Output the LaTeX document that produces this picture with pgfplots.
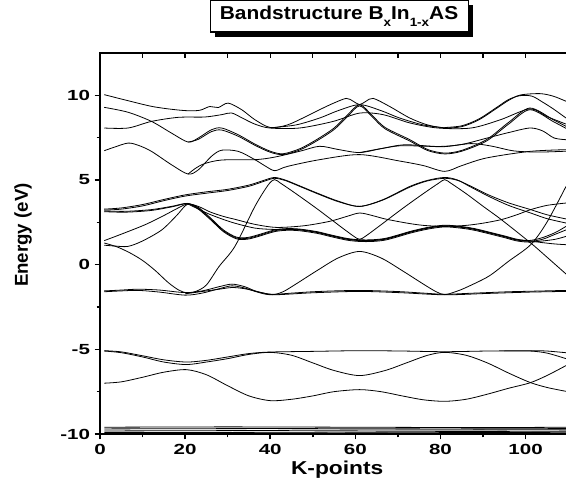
\documentclass[border=0pt]{standalone}
\usepackage{fontspec}
\setmainfont{Liberation Sans}
\newfontfamily\tickfont{Liberation Sans}[FakeStretch=1.4]
\newfontfamily\labfont{Liberation Sans}[FakeStretch=1.22]
\newfontfamily\titfont{Liberation Sans}[FakeStretch=1.12]
\usepackage{pgfplots}
\pgfplotsset{compat=1.18}
\usetikzlibrary{shadows}
\begin{document}
\begin{tikzpicture}
\pgfplotsset{band/.style={black, line width=0.6pt, smooth, no marks}}
\begin{axis}[name=ax,
  width=349.5pt, height=285.75pt, scale only axis,
  xmin=0, xmax=109.5, ymin=-10, ymax=12.5,
  axis x line=box, axis y line=left,
  x axis line style={-, line width=1.6pt},
  y axis line style={-, line width=1.8pt},
  xtick={0,20,...,100}, minor xtick={10,30,...,90},
  ytick={-10,-5,0,5,10}, minor ytick={-7.5,-2.5,2.5,7.5},
  xtick pos=bottom,
  tick align=outside,
  major tick length=4pt, minor tick length=2.5pt,
  every tick/.style={black, line width=1.2pt},
  /pgf/number format/assume math mode=true,
  ticklabel style={font={\fontsize{11}{13}\tickfont\bfseries}},
  xlabel={K-points}, ylabel={Energy (eV)},
  xlabel style={font={\fontsize{14}{16}\labfont\bfseries}, at={(axis description cs:0.509,0)}, anchor=center, yshift=-27pt},
  ylabel style={font={\fontsize{14}{16}\bfseries}, at={(axis description cs:-0.1652,0.522)}, anchor=center},
  title={Bandstructure B\raisebox{-0.4em}{\fontsize{9}{9}\selectfont x}In\raisebox{-0.4em}{\fontsize{9}{9}\selectfont 1-x}AS},
  title style={font={\fontsize{14}{16}\titfont\bfseries}, at={(axis description cs:0.513,1)}, anchor=center, yshift=21.75pt,
    draw=black, line width=0.8pt, fill=white, minimum width=193.5pt, minimum height=24pt, inner sep=2pt,
    drop shadow={shadow xshift=3.5pt, shadow yshift=-3.5pt, fill=black, opacity=1}},
]
% --- lowest flat bands
\addplot[band] coordinates {(1,-9.6)(30,-9.58)(60,-9.6)(90,-9.62)(109.5,-9.6)};
\addplot[band] coordinates {(1,-9.7)(40,-9.68)(80,-9.7)(109.5,-9.68)};
\addplot[band] coordinates {(1,-9.82)(30,-9.8)(60,-9.77)(109.5,-9.75)};
\addplot[band] coordinates {(1,-9.92)(40,-9.9)(80,-9.86)(109.5,-9.83)};
\addplot[band] coordinates {(1,-9.97)(50,-9.94)(109.5,-9.9)};
% --- -5 .. -8 group
\addplot[band] coordinates {(1,-5.08)(5,-5.15)(10,-5.38)(15,-5.62)(20.3,-5.75)(25,-5.65)(30,-5.45)(35,-5.25)(40,-5.16)(50,-5.12)(61,-5.08)(71,-5.1)(81,-5.14)(91,-5.1)(101,-5.08)(105,-5.1)(109.5,-5.2)};
\addplot[band] coordinates {(95,-5.1)(101,-5.1)(105,-5.22)(109.5,-5.55)};
\addplot[band] coordinates {(1,-5.1)(5,-5.2)(10,-5.45)(15,-5.75)(20.3,-5.9)(25,-5.75)(30,-5.55)(35,-5.3)(40,-5.18)(45,-5.35)(50,-5.8)(55,-6.25)(61,-6.55)(67,-6.25)(72,-5.8)(77,-5.35)(81,-5.18)(86,-5.35)(91,-5.8)(96,-6.4)(101,-6.95)(105,-7.25)(109.5,-7.48)};
\addplot[band] coordinates {(1,-7.0)(5,-6.92)(10,-6.65)(15,-6.35)(20.3,-6.2)(25,-6.5)(30,-7.15)(35,-7.75)(40,-8.03)(45,-7.95)(50,-7.75)(55,-7.5)(61,-7.38)(66,-7.5)(71,-7.75)(76,-7.98)(81,-8.07)(86,-7.95)(91,-7.65)(96,-7.3)(101,-6.98)(105,-6.55)(109.5,-5.96)};
% --- -1.6 group
\addplot[band] coordinates {(1,-1.55)(5,-1.5)(9,-1.45)(14,-1.5)(20,-1.65)(24,-1.55)(28,-1.3)(31,-1.15)(34,-1.3)(37,-1.6)(40.5,-1.75)(45,-1.68)(50,-1.6)(55,-1.55)(61,-1.52)(66,-1.55)(71,-1.6)(76,-1.68)(81,-1.75)(86,-1.7)(91,-1.65)(96,-1.6)(101,-1.57)(109.5,-1.52)};
\addplot[band] coordinates {(1,-1.6)(5,-1.55)(9,-1.52)(14,-1.62)(20,-1.8)(24,-1.68)(28,-1.42)(31,-1.25)(34,-1.38)(37,-1.62)(40.5,-1.78)(50,-1.66)(61,-1.58)(71,-1.66)(81,-1.78)(91,-1.7)(101,-1.62)(109.5,-1.58)};
\addplot[band] coordinates {(20,-1.72)(25,-1.55)(28,-1.45)(31,-1.35)(34,-1.42)(37.5,-1.62)(40.5,-1.77)(43,-1.6)(46,-1.15)(51,-0.35)(56,0.4)(61,0.78)(66,0.4)(71,-0.35)(76,-1.15)(79,-1.6)(81,-1.77)(83.5,-1.6)(86,-1.35)(91.3,-0.69)(96,0.2)(101.2,1.18)(105,2.5)(109.5,4.62)};
% --- steep band
\addplot[band] coordinates {(1,1.28)(4,1.05)(7,0.7)(10,0.25)(13,-0.35)(16,-1.05)(18.5,-1.5)(20.5,-1.67)(22.5,-1.58)(25,-1.2)(28,-0.1)(31.7,1.08)(36.4,3.44)(39.5,4.7)(41,5.02)(42.5,4.8)(46,4.2)(51,3.3)(56,2.35)(59.5,1.7)(61,1.5)(62.5,1.7)(66,2.35)(71,3.3)(76,4.2)(79.5,4.8)(81,5.02)(82.5,4.8)(86,4.2)(90,3.45)(94.3,2.66)(101.2,1.28)(105,0.45)(109.5,-0.55)};
% --- p band
\addplot[band] coordinates {(1,1.42)(5,1.8)(10.6,2.36)(15,2.9)(18,3.3)(20.5,3.58)(23,3.45)(26,3.1)(29,2.85)(32,2.66)(36.4,2.38)(41.5,2.2)(48,2.3)(54,2.56)(58,2.85)(61,3.05)(64,2.9)(67,2.7)(72,2.46)(76,2.32)(81,2.26)(86,2.32)(90,2.45)(94.3,2.66)(98,2.95)(101.2,3.25)(105,3.5)(109.5,3.64)};
% --- q bundle
\addplot[band] coordinates {(1,1.15)(3.5,1.1)(6.6,1.08)(10,1.4)(14.5,2.05)(18,2.9)(20.5,3.56)(23,3.4)(26,2.75)(29,2.05)(32,1.63)(34.5,1.6)(37,1.75)(41,2.05)(44,2.13)(47,2.1)(51,1.95)(54,1.77)(58,1.55)(61,1.47)(64,1.47)(67,1.55)(70,1.75)(73,1.97)(77,2.2)(81,2.33)(85,2.25)(88,2.13)(91,1.95)(95,1.7)(98,1.5)(101,1.43)(104,1.6)(107,1.9)(109.5,2.26)};
\addplot[band] coordinates {(1,3.17)(6,3.15)(12,3.25)(17,3.45)(20.5,3.62)(23,3.35)(26,2.7)(29,2.0)(32,1.58)(34.5,1.55)(37,1.7)(41,2.0)(44,2.08)(47,2.05)(51,1.9)(54,1.72)(58,1.5)(61,1.42)(64,1.42)(67,1.5)(70,1.7)(73,1.92)(77,2.15)(81,2.28)(85,2.2)(88,2.08)(91,1.9)(95,1.65)(98,1.45)(101,1.38)(104,1.5)(107,1.8)(109.5,2.05)};
\addplot[band] coordinates {(1,3.13)(6,3.1)(12,3.2)(17,3.42)(20.5,3.6)(23,3.3)(26,2.65)(29,1.95)(32,1.53)(34.5,1.5)(37,1.65)(41,1.95)(44,2.03)(47,2.0)(51,1.85)(54,1.67)(58,1.45)(61,1.37)(64,1.37)(67,1.45)(70,1.65)(73,1.87)(77,2.1)(81,2.23)(85,2.15)(88,2.03)(91,1.85)(95,1.6)(98,1.4)(101,1.33)(104,1.4)(107,1.5)(109.5,1.67)};
\addplot[band] coordinates {(20.5,3.6)(23,3.3)(26,2.95)(31,2.5)(36.4,2.16)(41,2.08)(44,2.1)(47,2.07)(51,1.92)(54,1.74)(58,1.52)(61,1.44)(64,1.44)(67,1.52)(70,1.72)(73,1.94)(77,2.17)(81,2.3)(85,2.22)(88,2.1)(91,1.92)(95,1.67)(98,1.47)(101,1.4)(104,1.3)(107,1.22)(109.5,1.18)};
% --- broad bands
\addplot[band] coordinates {(1,3.28)(5,3.35)(10,3.55)(15,3.85)(20,4.12)(25,4.3)(30,4.45)(35,4.7)(38.5,4.98)(41,5.15)(43.5,5.0)(46,4.75)(51,4.23)(56,3.75)(61,3.44)(66.5,3.84)(72.8,4.62)(77,4.98)(81,5.15)(84,5.0)(87,4.6)(91.3,4.04)(96,3.5)(101.2,3.05)(105,2.72)(109.5,2.46)};
\addplot[band] coordinates {(1,3.22)(5,3.28)(10,3.47)(15,3.78)(20,4.05)(25,4.22)(30,4.38)(35,4.63)(38.5,4.92)(41,5.1)(43.5,4.97)(46,4.72)(51,4.2)(56,3.72)(61,3.44)(66.5,3.82)(72.8,4.58)(77,4.95)(81,5.1)(84,4.98)(87,4.65)(91.3,4.12)(96,3.65)(101.2,3.25)(105,2.95)(109.5,2.7)};
% --- upper conduction bands
\addplot[band] coordinates {(1,10.04)(6,9.72)(12.1,9.35)(17,9.17)(20.7,9.09)(23.5,9.12)(25.8,9.34)(27.8,9.28)(30.1,9.54)(33.3,9.15)(36.4,8.56)(40,8.1)(44,8.25)(48,8.7)(52,9.2)(55,9.55)(57.9,9.82)(59.5,9.65)(61,9.45)(62.5,9.65)(64.2,9.82)(68,9.35)(72.8,8.66)(77,8.25)(81,8.08)(85,8.15)(89,8.55)(93,9.2)(96,9.7)(98.8,10.02)(103.4,10.1)(106.5,9.95)(109.5,9.65)};
\addplot[band] coordinates {(81,8.1)(85,8.2)(89,8.6)(93,9.25)(96,9.75)(98.7,9.98)(101.5,9.95)(104,9.6)(106.5,9.2)(109.5,8.66)};
\addplot[band] coordinates {(1,9.29)(6.6,9.0)(12.1,8.46)(16.8,7.77)(20.7,7.24)(23.1,7.48)(26.2,7.97)(28.6,8.07)(32.5,7.67)(36.4,7.12)(40,6.7)(43,6.55)(47,6.85)(51,7.4)(55,8.07)(58,8.8)(61,9.45)(64,8.8)(67,8.1)(72.8,7.38)(77,6.8)(81,6.59)(85,6.75)(90.8,7.38)(96,8.4)(101,9.25)(106.5,8.56)(109.5,8.17)};
\addplot[band] coordinates {(20.7,7.24)(23.1,7.4)(26.2,7.86)(28.6,7.95)(32.5,7.58)(36.4,7.05)(40,6.64)(43,6.5)(47,6.78)(51,7.32)(55,7.98)(58,8.7)(61,9.38)(64,8.72)(67,8.02)(72.8,7.3)(77,6.74)(81,6.54)(85,6.7)(90.8,7.3)(96,8.3)(101,9.15)(106.5,8.45)(109.5,8.05)};
\addplot[band] coordinates {(1,8.07)(6.6,8.07)(12.1,8.46)(18.4,8.7)(24.6,8.72)(28.6,8.86)(30.9,8.96)(33.5,8.65)(36.4,8.3)(39.9,8.07)(46.9,8.07)(54.8,8.46)(61,8.95)(66.5,8.86)(72.8,8.37)(79.4,8.07)(87.2,8.07)(94,8.55)(101,9.2)(105,8.75)(109.5,8.3)};
\addplot[band] coordinates {(39.9,8.08)(46,8.25)(51.6,8.66)(56,9.1)(61,9.45)(66,9.1)(70.4,8.66)(76,8.25)(81,8.08)};
\addplot[band] coordinates {(1,6.73)(3.5,6.95)(6.6,7.18)(9,7.05)(12.1,6.69)(16.8,5.9)(20.7,5.35)(23.1,5.6)(26.2,6.4)(28.6,6.76)(32.5,6.69)(36.4,6.2)(39,5.8)(41.1,5.55)(44,5.8)(51.6,6.2)(61,6.5)(70.4,6.12)(76,5.85)(81,5.51)(85,5.85)(90.8,6.3)(101,6.69)(109.5,6.79)};
\addplot[band] coordinates {(20.7,5.35)(22.5,5.7)(24.6,5.97)(28.6,6.18)(36.4,6.2)(41,6.35)(47,6.7)(51.6,6.99)(56,6.8)(61,6.62)(66,6.85)(70.4,7.02)(76,7.0)(81,6.97)(87.2,7.15)(92,7.0)(97.2,6.72)(103,6.65)(109.5,6.7)};
\addplot[band] coordinates {(61,6.62)(66,6.85)(71.6,7.08)(79.4,6.98)(85,7.1)(91,7.48)(96,7.8)(101,8.07)(104,7.9)(106.7,7.48)(109.5,7.38)};
\end{axis}
% overlay axis for inward ticks on the top edge
\begin{axis}[
  width=349.5pt, height=285.75pt, scale only axis,
  xmin=0, xmax=109.5, ymin=-10, ymax=12.5,
  axis x line=top, axis y line=none,
  x axis line style={-, line width=1.2pt},
  xtick={0,10,...,100}, xticklabels={},
  tick align=inside, major tick length=4pt,
  every tick/.style={black, line width=1pt},
]
\end{axis}
% left axis spine
\draw[line width=1.9pt, line cap=rect] (ax.south west) -- (ax.north west);
\pgfresetboundingbox
\path[use as bounding box] ([xshift=-75pt,yshift=-45.75pt]ax.south west) rectangle ([yshift=39.75pt]ax.north east);
\end{tikzpicture}
\end{document}
